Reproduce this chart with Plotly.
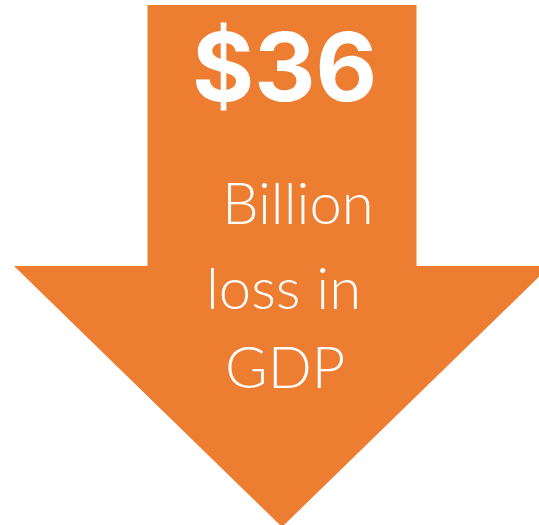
import plotly.graph_objects as go

# Data
value_label = "$36"
desc_lines = ["Billion", "loss in", "GDP"]

ORANGE = "#ED7D31"
W, H = 539, 525

# Arrow outline (layout geometry)
cx = 282
shaft_half = 134.5
shaft_top = 5
head_y = 266
head_half = 268
tip_y = 527
ax = [cx - shaft_half, cx + shaft_half, cx + shaft_half, cx + head_half, cx,
      cx - head_half, cx - shaft_half, cx - shaft_half]
ay = [shaft_top, shaft_top, head_y, head_y, tip_y, head_y, head_y, shaft_top]

fig = go.Figure()
fig.add_trace(go.Scatter(x=ax, y=ay, mode="lines", fill="toself",
                         fillcolor=ORANGE, line=dict(width=0, color=ORANGE),
                         hoverinfo="skip", showlegend=False))

fig.add_annotation(x=284, y=66, text=value_label, showarrow=False,
                   xanchor="center", yanchor="middle",
                   font=dict(family="Inter", size=95, color="white",
                             weight="bold", style="normal"))

line_pos = [(298, 201), (283, 286), (285, 365)]
for (x, y), t in zip(line_pos, desc_lines):
    fig.add_annotation(x=x, y=y, text=t, showarrow=False,
                       xanchor="center", yanchor="middle",
                       font=dict(family="Lato", size=58, color="white", weight=300))

fig.update_layout(width=W, height=H, margin=dict(l=0, r=0, t=0, b=0),
                  paper_bgcolor="white", plot_bgcolor="white",
                  xaxis=dict(range=[0, W], visible=False, fixedrange=True),
                  yaxis=dict(range=[H, 0], visible=False, fixedrange=True))
fig.write_html("out.html", config=dict(displayModeBar=False),
               post_script="document.body.style.margin='0';document.body.style.overflow='hidden';")
